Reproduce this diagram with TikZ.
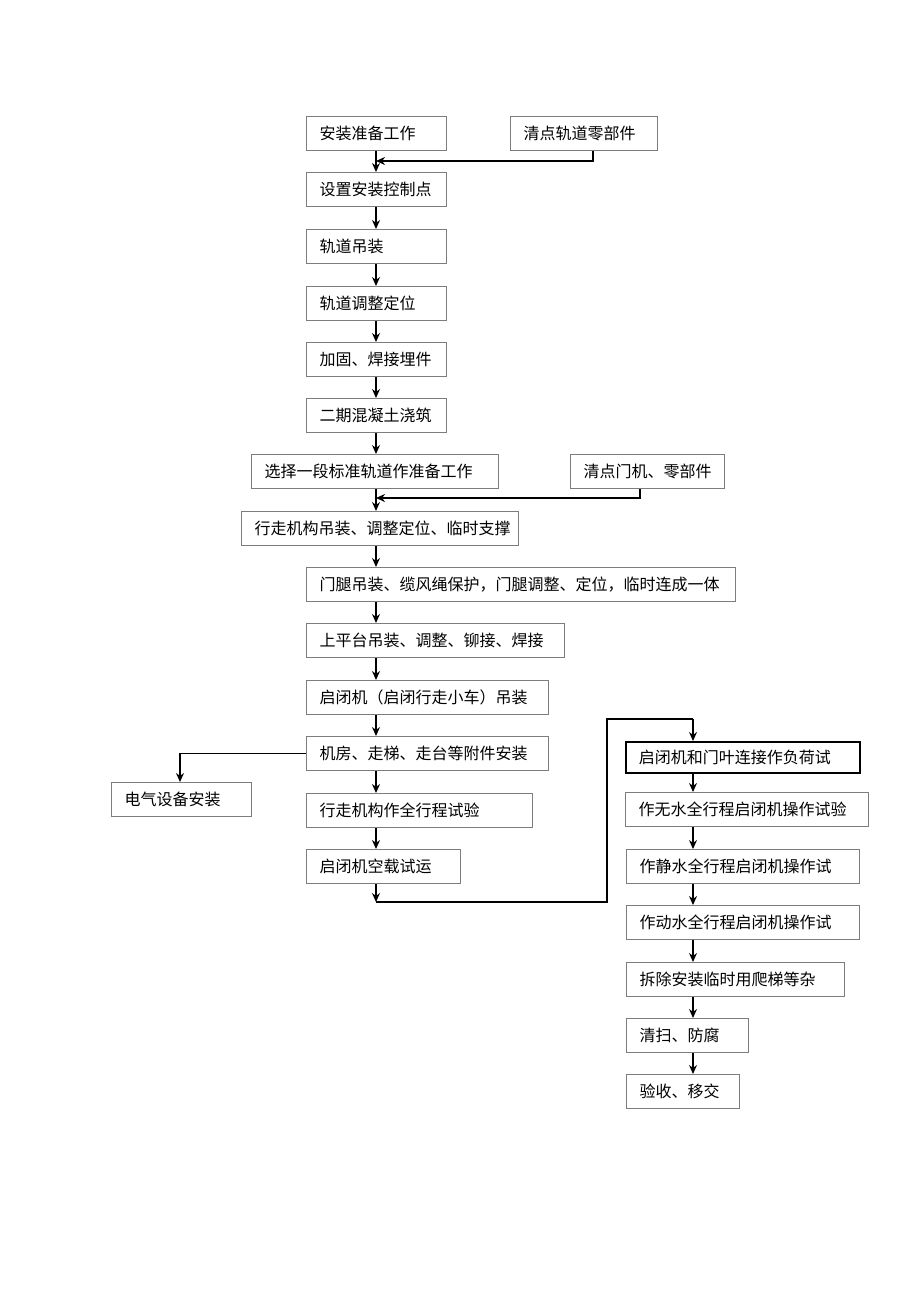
\documentclass[tikz,border=0pt]{standalone}
\usepackage{fontspec}
\setmainfont{Noto Sans CJK SC}
\usetikzlibrary{arrows.meta}
\definecolor{boxgray}{RGB}{125,125,125}

\begin{document}
\begin{tikzpicture}[x=1pt,y=-1pt,
  every node/.style={font=\fontsize{16}{19}\selectfont},
  stepbox/.style={draw=boxgray,line width=1pt,anchor=north west,minimum height=34pt,
                  inner xsep=13pt,inner ysep=0pt,text width=#1,align=left},
  flow/.style={line width=1.4pt,-{Stealth[length=9pt,width=8pt]}},
  link/.style={line width=1.4pt}]
  \useasboundingbox (0,0) rectangle (920,1301);

  % left column
  \node[stepbox=114pt]  (prep)    at (306,116)  {安装准备工作};
  \node[stepbox=121pt]  (count1)  at (510,116)  {清点轨道零部件};
  \node[stepbox=114pt]  (ctrl)    at (306,172)  {设置安装控制点};
  \node[stepbox=114pt]  (hoist)   at (306,229)  {轨道吊装};
  \node[stepbox=114pt]  (adjust)  at (306,286)  {轨道调整定位};
  \node[stepbox=114pt]  (fix)     at (306,342)  {加固、焊接埋件};
  \node[stepbox=114pt]  (pour)    at (306,398)  {二期混凝土浇筑};
  \node[stepbox=221pt]  (sel)     at (251,454)  {选择一段标准轨道作准备工作};
  \node[stepbox=128pt]  (count2)  at (570,454)  {清点门机、零部件};
  \node[stepbox=251pt]  (walk)    at (241,511)  {行走机构吊装、调整定位、临时支撑};
  \node[stepbox=403pt]  (legs)    at (306,567)  {门腿吊装、缆风绳保护，门腿调整、定位，临时连成一体};
  \node[stepbox=232pt]  (deck)    at (306,623)  {上平台吊装、调整、铆接、焊接};
  \node[stepbox=216pt]  (hoister) at (306,680)  {启闭机（启闭行走小车）吊装};
  \node[stepbox=216pt]  (room)    at (306,736)  {机房、走梯、走台等附件安装};
  \node[stepbox=114pt]  (elec)    at (111,782)  {电气设备安装};
  \node[stepbox=200pt]  (walktest) at (306,793) {行走机构作全行程试验};
  \node[stepbox=128pt]  (idle)    at (306,849)  {启闭机空载试运};

  % right column
  \node[stepbox=208pt,draw=black,line width=1.5pt,minimum height=31pt] (load) at (625,741) {启闭机和门叶连接作负荷试};
  \node[stepbox=217pt]  (dry)     at (625,792)  {作无水全行程启闭机操作试验};
  \node[stepbox=207pt]  (still)   at (626,849)  {作静水全行程启闭机操作试};
  \node[stepbox=207pt]  (dyn)     at (626,905)  {作动水全行程启闭机操作试};
  \node[stepbox=192pt]  (remove)  at (626,962)  {拆除安装临时用爬梯等杂};
  \node[stepbox=96pt]   (clean)   at (626,1018) {清扫、防腐};
  \node[stepbox=87pt]   (accept)  at (626,1074) {验收、移交};

  \coordinate (lx) at (376,0);
  \coordinate (rx) at (693,0);
  \coordinate (m1) at (376,161);
  \coordinate (m2) at (376,498);
  \coordinate (m3) at (376,902);
  \coordinate (r1) at (607,902);
  \coordinate (r2) at (607,719);
  \coordinate (r3) at (693,719);
  \coordinate (e1) at (180,0);

  \draw[flow] (prep.south -| lx) -- (ctrl.north -| lx);
  \draw[flow] (count1.south -| 593,0) |- (m1);
  \draw[flow] (ctrl.south -| lx) -- (hoist.north -| lx);
  \draw[flow] (hoist.south -| lx) -- (adjust.north -| lx);
  \draw[flow] (adjust.south -| lx) -- (fix.north -| lx);
  \draw[flow] (fix.south -| lx) -- (pour.north -| lx);
  \draw[flow] (pour.south -| lx) -- (sel.north -| lx);
  \draw[flow] (sel.south -| lx) -- (walk.north -| lx);
  \draw[flow] (count2.south -| 640,0) |- (m2);
  \draw[flow] (walk.south -| lx) -- (legs.north -| lx);
  \draw[flow] (legs.south -| lx) -- (deck.north -| lx);
  \draw[flow] (deck.south -| lx) -- (hoister.north -| lx);
  \draw[flow] (hoister.south -| lx) -- (room.north -| lx);
  \draw[flow] (room.west) -| (elec.north -| e1);
  \draw[flow] (room.south -| lx) -- (walktest.north -| lx);
  \draw[flow] (walktest.south -| lx) -- (idle.north -| lx);
  \draw[flow] (idle.south -| lx) -- (m3);
  \draw[link] (m3) -- (r1) -- (r2) -- (r3);
  \draw[flow] (r3) -- (load.north -| rx);
  \draw[flow] (load.south -| rx) -- (dry.north -| rx);
  \draw[flow] (dry.south -| rx) -- (still.north -| rx);
  \draw[flow] (still.south -| rx) -- (dyn.north -| rx);
  \draw[flow] (dyn.south -| rx) -- (remove.north -| rx);
  \draw[flow] (remove.south -| rx) -- (clean.north -| rx);
  \draw[flow] (clean.south -| rx) -- (accept.north -| rx);
\end{tikzpicture}
\end{document}
